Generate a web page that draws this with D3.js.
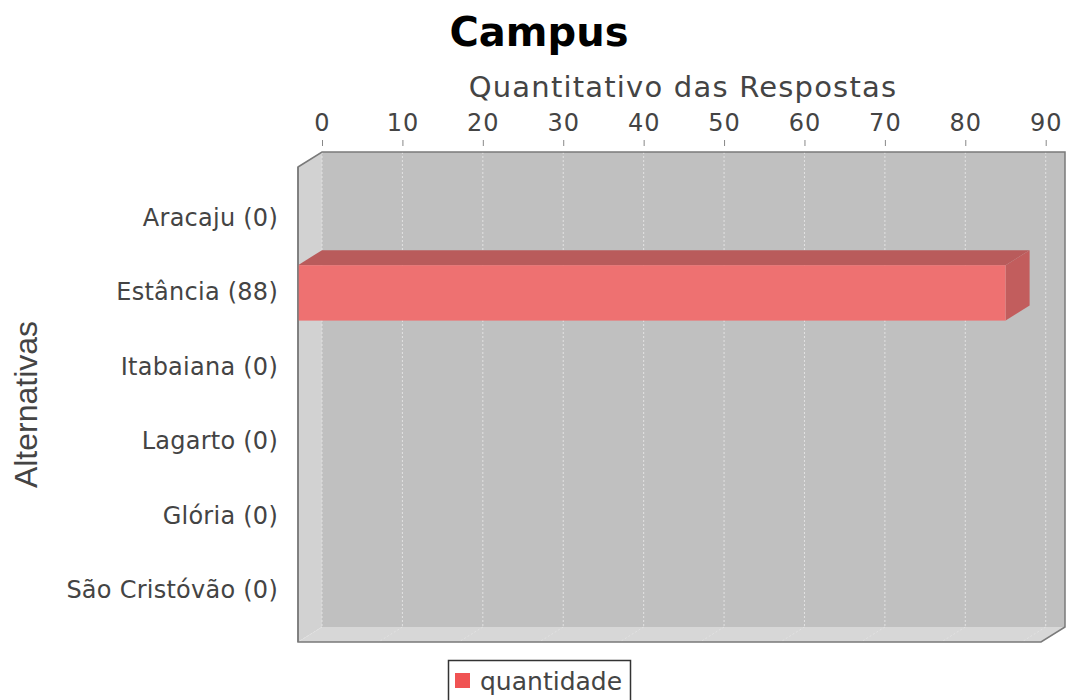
<!DOCTYPE html>
<html>
<head>
<meta charset="utf-8">
<script src="https://d3js.org/d3.v7.min.js"></script>
<style>
  body { margin: 0; background: #fff; }
  text { font-family: "DejaVu Sans", sans-serif; }
</style>
</head>
<body>
<div id="chart"></div>
<script>
// data
const categories = ["Aracaju", "Estância", "Itabaiana", "Lagarto", "Glória", "São Cristóvão"];
const values = [0, 88, 0, 0, 0, 0];
const tickValues = [0, 10, 20, 30, 40, 50, 60, 70, 80, 90];
const seriesName = "quantidade";

const width = 1067, height = 700;
// 3d offset
const dx = 24, dy = 15;
// back wall
const wall = { left: 322, right: 1065, top: 152, bottom: 627 };

const svg = d3.select("#chart").append("svg")
    .attr("width", width)
    .attr("height", height);

const x = d3.scaleLinear()
    .domain([0, d3.max(values) * 1.05])
    .range([wall.left, wall.right]);

// categories run down the front face
const y = d3.scaleBand()
    .domain(categories)
    .range([wall.top + dy, wall.bottom + dy])
    .paddingInner(0.255)
    .paddingOuter(0.319);

// left wall
svg.append("polygon")
    .attr("points", [[wall.left - dx, wall.top + dy], [wall.left, wall.top], [wall.left, wall.bottom], [wall.left - dx, wall.bottom + dy]].join(" "))
    .attr("fill", "#d2d2d2");

// floor
svg.append("polygon")
    .attr("points", [[wall.left - dx, wall.bottom + dy], [wall.left, wall.bottom], [wall.right, wall.bottom], [wall.right - dx, wall.bottom + dy]].join(" "))
    .attr("fill", "#d7d7d7");

// back wall
svg.append("rect")
    .attr("x", wall.left)
    .attr("y", wall.top)
    .attr("width", wall.right - wall.left)
    .attr("height", wall.bottom - wall.top)
    .attr("fill", "#c0c0c0");

// gridlines on wall and floor
const grid = svg.append("g")
    .attr("stroke", "#e2e2e2")
    .attr("stroke-width", 1)
    .attr("stroke-dasharray", "2,2");
grid.selectAll(".gw")
    .data(tickValues)
    .enter().append("line")
    .attr("x1", d => x(d)).attr("x2", d => x(d))
    .attr("y1", wall.top).attr("y2", wall.bottom);
grid.selectAll(".gf")
    .data(tickValues)
    .enter().append("line")
    .attr("x1", d => x(d)).attr("x2", d => x(d) - dx)
    .attr("y1", wall.bottom).attr("y2", wall.bottom + dy);

// outline
svg.append("polygon")
    .attr("points", [[wall.left - dx, wall.top + dy], [wall.left, wall.top], [wall.right, wall.top], [wall.right, wall.bottom],
        [wall.right - dx, wall.bottom + dy], [wall.left - dx, wall.bottom + dy]].join(" "))
    .attr("fill", "none")
    .attr("stroke", "#7a7a7a")
    .attr("stroke-width", 1.5);

// bars
const bars = svg.append("g")
    .selectAll("g")
    .data(categories.map((c, i) => ({ cat: c, value: values[i] })).filter(d => d.value > 0))
    .enter().append("g");

bars.append("polygon") // top
    .attr("points", d => {
        const x0 = x(0) - dx, x1 = x(d.value) - dx, y0 = y(d.cat);
        return [[x0, y0], [x0 + dx, y0 - dy], [x1 + dx, y0 - dy], [x1, y0]].join(" ");
    })
    .attr("fill", "#b95b5b");

bars.append("polygon") // side
    .attr("points", d => {
        const x1 = x(d.value) - dx, y0 = y(d.cat), y1 = y0 + y.bandwidth();
        return [[x1, y0], [x1 + dx, y0 - dy], [x1 + dx, y1 - dy], [x1, y1]].join(" ");
    })
    .attr("fill", "#c25d5d");

bars.append("rect") // front
    .attr("x", x(0) - dx)
    .attr("y", d => y(d.cat))
    .attr("width", d => x(d.value) - x(0))
    .attr("height", y.bandwidth())
    .attr("fill", "#ee7171");

// redraw left edge over the bar
svg.append("line")
    .attr("x1", wall.left - dx).attr("x2", wall.left - dx)
    .attr("y1", wall.top + dy).attr("y2", wall.bottom + dy)
    .attr("stroke", "#7a7a7a")
    .attr("stroke-width", 1.5);

// value axis on top
const xAxis = d3.axisTop(x)
    .tickValues(tickValues)
    .tickSize(6)
    .tickPadding(9);

const ax = svg.append("g")
    .attr("transform", `translate(0, ${wall.top - 6})`)
    .call(xAxis);
ax.select(".domain").remove();
ax.selectAll(".tick line").attr("stroke", "#888");
ax.selectAll(".tick text")
    .attr("fill", "#444")
    .style("font-family", "DejaVu Sans")
    .style("font-size", "24px")
    .style("letter-spacing", "1px");

// category labels
svg.append("g")
    .selectAll("text")
    .data(categories)
    .enter().append("text")
    .attr("x", 278)
    .attr("y", d => y(d) + y.bandwidth() / 2 - 1)
    .attr("dy", "0.35em")
    .attr("text-anchor", "end")
    .attr("fill", "#444")
    .style("font-size", "24px")
    .style("letter-spacing", "0.25px")
    .text((d, i) => `${d} (${values[i]})`);

// title
svg.append("text")
    .attr("x", 539)
    .attr("y", 46)
    .attr("text-anchor", "middle")
    .attr("fill", "#000")
    .style("font-size", "40px")
    .style("font-weight", "bold")
    .text("Campus");

// axis titles
svg.append("text")
    .attr("x", 683)
    .attr("y", 97)
    .attr("text-anchor", "middle")
    .attr("fill", "#444")
    .style("font-size", "29px")
    .style("letter-spacing", "1.2px")
    .text("Quantitativo das Respostas");

svg.append("text")
    .attr("transform", `translate(37, ${(wall.top + wall.bottom + 2 * dy) / 2}) rotate(-90)`)
    .attr("text-anchor", "middle")
    .attr("fill", "#444")
    .style("font-family", "Liberation Sans")
    .style("font-size", "32px")
    .text("Alternativas");

// legend
const legend = svg.append("g");
legend.append("rect")
    .attr("x", 448.5).attr("y", 660.5)
    .attr("width", 182).attr("height", 42)
    .attr("fill", "#fff")
    .attr("stroke", "#333")
    .attr("stroke-width", 1.5);
legend.append("rect")
    .attr("x", 455).attr("y", 673)
    .attr("width", 15).attr("height", 15)
    .attr("fill", "#f05353");
legend.append("text")
    .attr("x", 480)
    .attr("y", 690)
    .attr("fill", "#444")
    .style("font-size", "25px")
    .text(seriesName);
</script>
</body>
</html>
